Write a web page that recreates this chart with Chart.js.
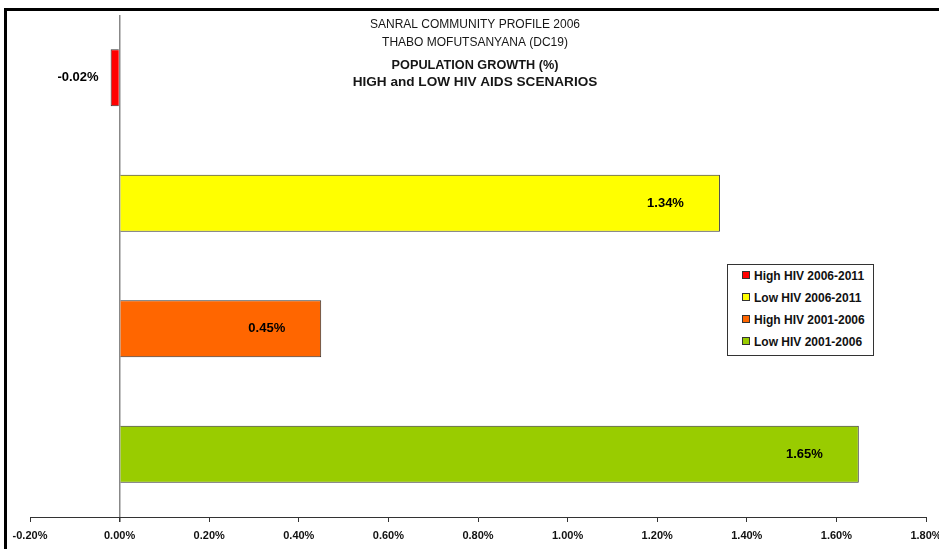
<!DOCTYPE html>
<html lang="en">
<head>
  <meta charset="UTF-8">
  <title>Population Growth - Thabo Mofutsanyana</title>
  <script src="https://cdn.jsdelivr.net/npm/chart.js"></script>
  <style>
    body { margin: 0; background: #fff; font-family: Arial, "Liberation Sans", sans-serif; overflow: hidden; }
    #wrap { position: relative; width: 939px; height: 549px; overflow: hidden; }
    #frame { position: absolute; left: 4px; top: 8px; width: 1000px; height: 600px; border: 3px solid #000; }
    #growthChart { position: absolute; left: 0; top: 0; }
    #legend {
      position: absolute; left: 727px; top: 264px; width: 145px; height: 90px;
      border: 1px solid #333; background: #fff;
    }
    #legend div { position: absolute; left: 14px; height: 14px; line-height: 14px;
      font-size: 12px; font-weight: bold; color: #111; white-space: nowrap; }
    #legend span { display: inline-block; width: 6px; height: 6px; border: 1px solid #333;
      margin-right: 4px; vertical-align: 1px; }
  </style>
</head>
<body>
  <div id="wrap">
    <div id="frame"></div>
    <canvas id="growthChart" width="939" height="549"></canvas>
    <div id="legend"></div>
  </div>

  <script>
    const TITLE_LINES = [
      'SANRAL COMMUNITY PROFILE 2006',
      'THABO MOFUTSANYANA (DC19)',
      'POPULATION GROWTH (%)',
      'HIGH and LOW HIV AIDS SCENARIOS'
    ];
    const scenarios = ['High HIV 2006-2011', 'Low HIV 2006-2011', 'High HIV 2001-2006', 'Low HIV 2001-2006'];
    const growth = [-0.02, 1.34, 0.45, 1.65];
    const barColors = ['#ff0000', '#ffff00', '#ff6600', '#99cc00'];
    const xTicks = [-0.2, 0, 0.2, 0.4, 0.6, 0.8, 1.0, 1.2, 1.4, 1.6, 1.8];

    // legend box (html so it can have a border)
    const legendBox = document.getElementById('legend');
    scenarios.forEach((name, i) => {
      const row = document.createElement('div');
      row.style.top = (4 + i * 22) + 'px';
      const sw = document.createElement('span');
      sw.style.background = barColors[i];
      row.appendChild(sw);
      row.appendChild(document.createTextNode(name));
      legendBox.appendChild(row);
    });

    // headings drawn over the plot
    const titlePlugin = {
      id: 'titleLines',
      afterDraw(chart) {
        const c = chart.ctx;
        c.save();
        c.fillStyle = '#161616';
        c.textAlign = 'center';
        c.textBaseline = 'middle';
        const specs = [
          { font: '12px Arial', y: 25 },
          { font: '12px Arial', y: 43 },
          { font: 'bold 12.7px Arial', y: 65 },
          { font: 'bold 13.6px Arial', y: 82 }
        ];
        TITLE_LINES.forEach((t, i) => {
          c.font = specs[i].font;
          c.fillText(t, 475, specs[i].y);
        });
        c.restore();
      }
    };

    // value labels near the bar ends
    const valueLabels = {
      id: 'valueLabels',
      afterDatasetsDraw(chart) {
        const c = chart.ctx;
        const meta = chart.getDatasetMeta(0);
        c.save();
        c.font = 'bold 13px Arial';
        c.fillStyle = '#000';
        c.textAlign = 'right';
        c.textBaseline = 'middle';
        meta.data.forEach((bar, i) => {
          const v = growth[i];
          const txt = v.toFixed(2) + '%';
          const x = v < 0 ? bar.x - 12 : bar.x - 36;
          c.fillText(txt, x, bar.y);
        });
        c.restore();
      }
    };

    const ctx = document.getElementById('growthChart').getContext('2d');
    new Chart(ctx, {
      type: 'bar',
      data: {
        labels: scenarios,
        datasets: [{
          data: growth,
          backgroundColor: barColors,
          borderColor: '#333',
          borderWidth: 1,
          categoryPercentage: 1,
          barPercentage: 0.455
        }]
      },
      options: {
        indexAxis: 'y',
        responsive: false,
        animation: false,
        layout: { padding: { top: 15, left: 0, right: 0, bottom: 0 } },
        plugins: {
          legend: { display: false },
          title: { display: false },
          tooltip: { enabled: false }
        },
        scales: {
          y: { display: false },
          x: {
            min: -0.2,
            max: 1.8,
            afterBuildTicks(s) { s.ticks = xTicks.map(v => ({ value: v })); },
            afterFit(s) {
              s.height = 32;
              s.paddingLeft = 30;
              s.paddingRight = 13;
            },
            border: { display: true, color: '#333', width: 1 },
            grid: {
              drawOnChartArea: true,
              drawTicks: true,
              tickLength: 5,
              tickColor: '#333',
              color: c => (c.tick && Math.abs(c.tick.value) < 1e-9) ? '#888' : 'rgba(0,0,0,0)',
              lineWidth: c => (c.tick && Math.abs(c.tick.value) < 1e-9) ? 1.5 : 1
            },
            ticks: {
              padding: 7,
              color: '#111',
              font: { family: 'Arial', size: 11, weight: 'bold' },
              callback: v => Number(v).toFixed(2) + '%'
            }
          }
        }
      },
      plugins: [titlePlugin, valueLabels]
    });
  </script>
</body>
</html>
